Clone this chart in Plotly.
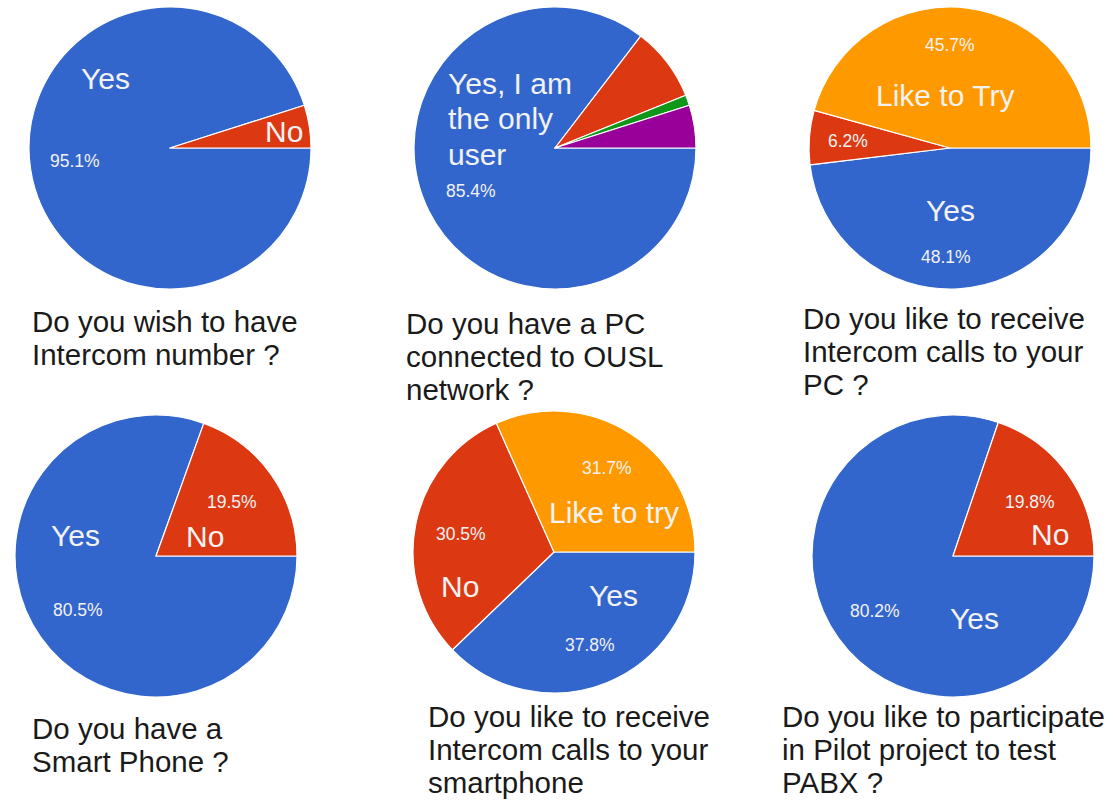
import plotly.graph_objects as go

W, H = 1113, 800

# ---- data ----
labels_1 = ["Yes", "No"]
values_1 = [95.1, 4.9]

labels_2 = ["Yes, I am the only user", "Shared", "Other", "No"]
values_2 = [85.4, 8.5, 1.2, 4.9]

labels_3 = ["Yes", "No", "Like to Try"]
values_3 = [48.1, 6.2, 45.7]

labels_4 = ["Yes", "No"]
values_4 = [80.5, 19.5]

labels_5 = ["Yes", "No", "Like to try"]
values_5 = [37.8, 30.5, 31.7]

labels_6 = ["Yes", "No"]
values_6 = [80.2, 19.8]

titles = [
    ["Do you wish to have", "Intercom number ?"],
    ["Do you have a PC", "connected to OUSL", "network ?"],
    ["Do you like to receive", "Intercom calls to your", "PC ?"],
    ["Do you have a", "Smart Phone ?"],
    ["Do you like to receive", "Intercom calls to your", "smartphone"],
    ["Do you like to participate", "in Pilot project to test", "PABX ?"],
]

# ---- styling / layout (pixels) ----
BLUE, RED, ORANGE, GREEN, PURPLE = "#3366CC", "#DC3912", "#FF9900", "#109618", "#990099"
colors = [
    [BLUE, RED],
    [BLUE, RED, GREEN, PURPLE],
    [BLUE, RED, ORANGE],
    [BLUE, RED],
    [BLUE, RED, ORANGE],
    [BLUE, RED],
]
centers = [(170, 148), (555, 148), (950, 148), (156, 556), (554, 552), (953, 556)]
R = 141
title_pos = [(30, 330), (404, 332), (801, 327), (30, 737), (426, 725), (780, 725)]
LINE = 33

# label placements: (pie index, slice index, lines, x, y)
big_labels = [
    (0, 0, ["Yes"], 105, 78), (0, 1, ["No"], 284, 131),
    (1, 0, ["Yes, I am", "the only", "user"], 446, 84),
    (2, 2, ["Like to Try"], 945, 95), (2, 0, ["Yes"], 950, 211),
    (3, 1, ["No"], 205, 536), (3, 0, ["Yes"], 75, 535),
    (4, 2, ["Like to try"], 614, 512), (4, 1, ["No"], 460, 586), (4, 0, ["Yes"], 613, 595),
    (5, 1, ["No"], 1050, 534), (5, 0, ["Yes"], 974, 618),
]
pct_labels = [
    (0, 0, 75, 161), (1, 0, 471, 191),
    (2, 2, 950, 45), (2, 1, 848, 141), (2, 0, 946, 257),
    (3, 1, 232, 502), (3, 0, 78, 610),
    (4, 2, 607, 468), (4, 1, 461, 534), (4, 0, 590, 645),
    (5, 1, 1030, 502), (5, 0, 875, 611),
]

all_labels = [labels_1, labels_2, labels_3, labels_4, labels_5, labels_6]
all_values = [values_1, values_2, values_3, values_4, values_5, values_6]

FONT = "Liberation Sans, Arial, sans-serif"

def px(x):
    return x / W

def py(y):
    return 1 - y / H

fig = go.Figure()
for i, (lab, val) in enumerate(zip(all_labels, all_values)):
    cx, cy = centers[i]
    fig.add_trace(go.Pie(
        labels=lab, values=val, sort=False, direction="clockwise", rotation=90,
        marker=dict(colors=colors[i], line=dict(color="#ffffff", width=1.2)),
        textinfo="none", hoverinfo="label+percent", showlegend=False,
        domain=dict(x=[px(cx - R), px(cx + R)], y=[py(cy + R), py(cy - R)]),
    ))

ann = []
for i, lines in enumerate(titles):
    x0, y0 = title_pos[i]
    for k, line in enumerate(lines):
        ann.append(dict(text=line, x=px(x0), y=py(y0 + k * LINE - 9), xref="paper", yref="paper",
                        xanchor="left", yanchor="middle", showarrow=False,
                        font=dict(family=FONT, size=29.5, color="#1a1a1a")))

for (p, s, lines, x, y) in big_labels:
    multi = len(lines) > 1
    for k, line in enumerate(lines):
        ann.append(dict(text=line, x=px(x), y=py(y + k * 35), xref="paper", yref="paper",
                        xanchor="left" if multi else "center", yanchor="middle", showarrow=False,
                        font=dict(family=FONT, size=30, color="#f2f2f2")))

for (p, s, x, y) in pct_labels:
    ann.append(dict(text=f"{all_values[p][s]:.1f}%", x=px(x), y=py(y), xref="paper", yref="paper",
                    xanchor="center", yanchor="middle", showarrow=False,
                    font=dict(family=FONT, size=17.5, color="#f2f2f2")))

fig.update_layout(
    width=W, height=H, margin=dict(l=0, r=0, t=0, b=0),
    paper_bgcolor="white", plot_bgcolor="white",
    annotations=ann,
)
fig.write_html("out.html")
